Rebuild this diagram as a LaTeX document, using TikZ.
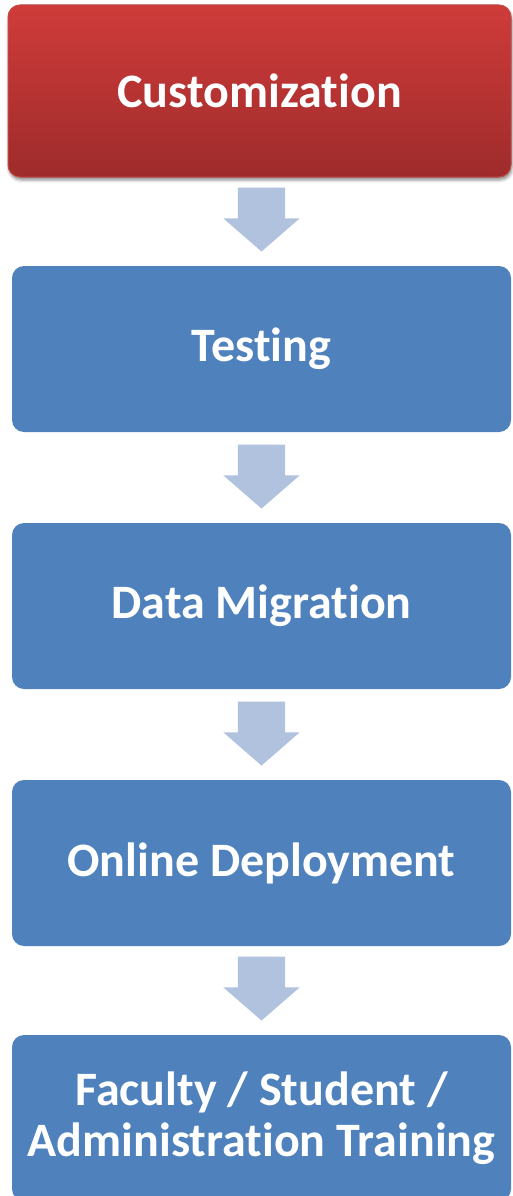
\documentclass[tikz,border=0pt]{standalone}
\usepackage{fontspec}
\setmainfont{Carlito}[Ligatures=NoCommon]
\usepackage{xcolor}
\usetikzlibrary{positioning,calc,shapes.arrows,shadows.blur}

\definecolor{stepblue}{HTML}{4F81BD}
\definecolor{arrowblue}{HTML}{B0C2DE}
\definecolor{redtop}{HTML}{CF3C3A}
\definecolor{redbot}{HTML}{9E2B2B}
\definecolor{redline}{HTML}{C24A47}

\begin{document}
\begin{tikzpicture}[
  x=1pt, y=-1pt,
  stepbox/.style={rectangle, rounded corners=12pt, fill=stepblue, text=white,
    font=\fontsize{48}{51}\selectfont\bfseries, align=center, inner sep=0pt,
    minimum width=499pt, minimum height=166pt},
  activebox/.style={stepbox, top color=redtop, bottom color=redbot,
    draw=redline, line width=1pt, minimum width=503pt, minimum height=172pt,
    blur shadow={shadow xshift=1pt, shadow yshift=-3pt, shadow blur radius=3pt, shadow opacity=45}},
  downarr/.style={single arrow, fill=arrowblue, rotate=-90, inner xsep=0pt,
    inner ysep=23.5pt, minimum height=64pt, single arrow head extend=14.5pt,
    single arrow tip angle=98, anchor=tip}
]
  \useasboundingbox (0,0) rectangle (512,1196);

  \node[activebox] (custom) at (259.5,91) {Customization};
  \node[stepbox] (test)   at (261.5,349)  {Testing};
  \node[stepbox] (migr)   at (261.5,606)  {Data Migration};
  \node[stepbox] (deploy) at (261.5,863)  {Online Deployment};
  \node[stepbox] (train)  at (261.5,1118) {Faculty / Student /\\Administration Training};

  % block arrows between the steps, tip just above the next box
  \foreach \a/\b [count=\i] in {custom/test, test/migr, migr/deploy, deploy/train}
    \node[downarr] (arr\i) at ($(\b.north)+(0,-14)$) {};
\end{tikzpicture}
\end{document}
